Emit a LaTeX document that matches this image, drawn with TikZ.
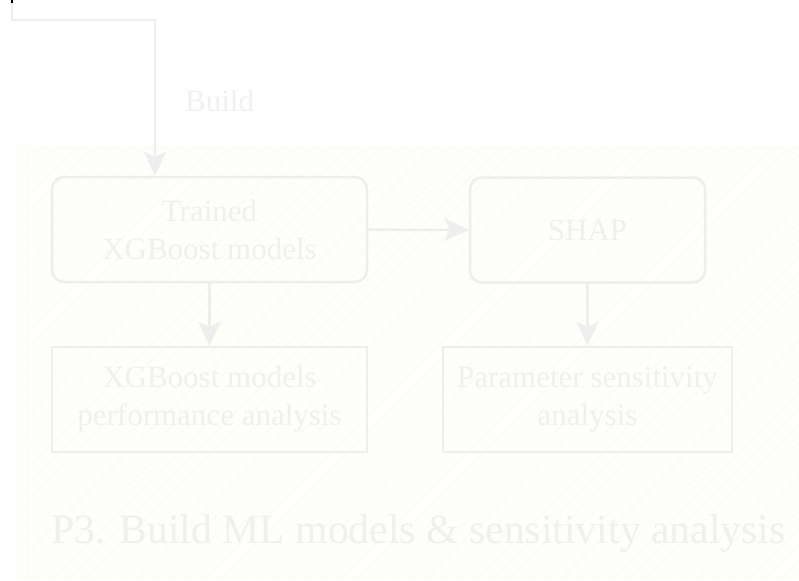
\documentclass[tikz,border=0pt]{standalone}
\usepackage{fontspec}
\setmainfont{Liberation Serif}
\usepackage{xcolor}
\usetikzlibrary{arrows.meta, positioning, patterns.meta}
\definecolor{linecolor}{RGB}{238,238,238}
\definecolor{textcolor}{RGB}{240,240,240}
\definecolor{panelcolor}{RGB}{254,254,251}
\definecolor{panelshade}{RGB}{253,253,250}
\definecolor{hatchcolor}{RGB}{251,251,247}
\definecolor{panelborder}{RGB}{250,249,244}

\tikzset{
  flow/.style={draw=linecolor, line width=2.5pt, -{Stealth[length=24pt, width=22pt, inset=5pt]}},
  modelbox/.style={draw=linecolor, line width=2.5pt, rounded corners=12pt, minimum height=105pt,
    align=center, text=textcolor, font=\fontsize{31}{38}\selectfont},
  resultbox/.style={draw=linecolor, line width=2.5pt, minimum height=105pt,
    align=center, text=textcolor, font=\fontsize{31}{38}\selectfont},
}

\begin{document}
\begin{tikzpicture}[x=1pt, y=-1pt]
    \useasboundingbox (0,0) rectangle (799,580);

    % P3 panel with hatching
    \fill[panelshade] (15,145) rectangle (799,580);
    \fill[panelcolor] (27,150) rectangle (799,578);
    \fill[pattern={Lines[angle=45, distance=12pt, line width=1.5pt]}, pattern color=hatchcolor]
        (27,150) rectangle (799,578);
    \draw[panelborder, line width=1pt] (799,150) -- (27,150) -- (27,578);

    % Model boxes
    \node[modelbox, minimum width=315pt] (trained) at (209.5,229.5) {Trained\\XGBoost models};
    \node[modelbox, minimum width=235pt] (shap) at (587.5,230) {SHAP};

    % Analysis boxes
    \node[resultbox, minimum width=315pt] (perf) at (209.5,399.5) {XGBoost models\\performance analysis};
    \node[resultbox, minimum width=289pt] (param) at (587.5,399.5) {Parameter sensitivity\\analysis};

    % Panel title
    \node[anchor=base west, inner sep=0pt, text=textcolor, font=\fontsize{41.7}{50}\selectfont]
        (title) at (51,543) {P3. Build ML models \& sensitivity analysis};

    % Incoming build link
    \coordinate (start) at (12,0);
    \coordinate (bend) at (155,20);
    \draw[flow] (start) |- (bend) -- (bend |- trained.north);
    \draw[black, line width=2.5pt] (start) -- ++(0,3);
    \node[anchor=base west, inner sep=0pt, text=textcolor, font=\fontsize{31}{38}\selectfont]
        (buildlbl) at (185,112) {Build};

    % Links inside the panel
    \draw[flow] (trained) -- (shap);
    \draw[flow] (trained) -- (perf);
    \draw[flow] (shap) -- (param);
\end{tikzpicture}
\end{document}
